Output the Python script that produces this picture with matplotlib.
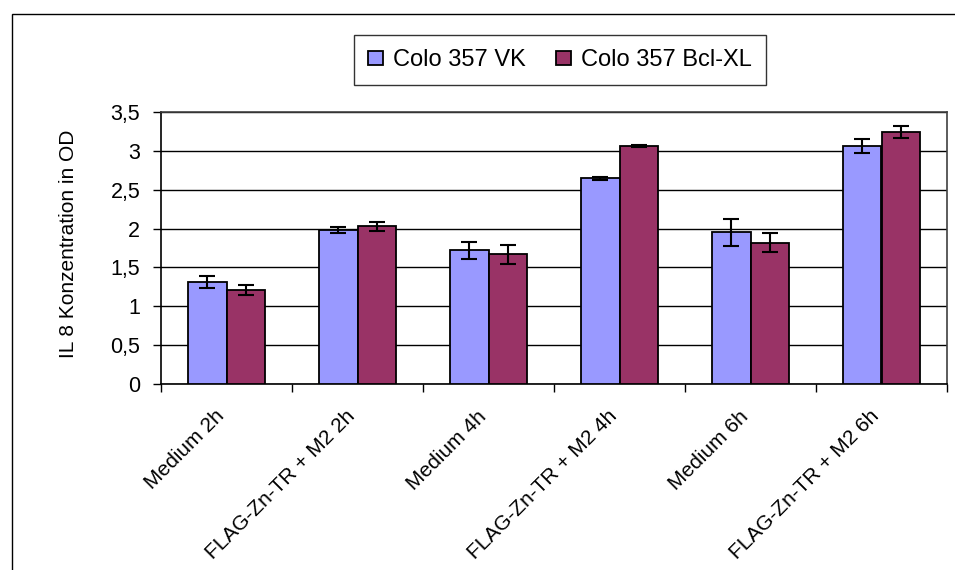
import matplotlib
matplotlib.use("Agg")
import matplotlib.pyplot as plt
import numpy as np
from matplotlib.patches import Rectangle

plt.rcParams['font.family'] = ['Liberation Sans', 'DejaVu Sans']

categories = ["Medium 2h", "FLAG-Zn-TR + M2 2h", "Medium 4h",
              "FLAG-Zn-TR + M2 4h", "Medium 6h", "FLAG-Zn-TR + M2 6h"]
vk_values = [1.31, 1.98, 1.72, 2.65, 1.95, 3.06]
vk_errors = [0.08, 0.035, 0.11, 0.02, 0.17, 0.09]
bcl_values = [1.21, 2.03, 1.67, 3.06, 1.82, 3.24]
bcl_errors = [0.065, 0.06, 0.12, 0.01, 0.12, 0.08]
series_names = ["Colo 357 VK", "Colo 357 Bcl-XL"]
yticks = [0, 0.5, 1, 1.5, 2, 2.5, 3, 3.5]
ytick_labels = ["0", "0,5", "1", "1,5", "2", "2,5", "3", "3,5"]

fig = plt.figure(figsize=(9.55, 5.7), dpi=100)
# outer chart frame
fig.patches.append(Rectangle((11.5/955, -0.05), 1.05, (570-14)/570 + 0.05,
                             transform=fig.transFigure, fill=False,
                             edgecolor='black', linewidth=1.0))

ax = fig.add_axes([161/955, (570-384)/570, (947-161)/955, (384-112)/570])
x = np.arange(len(categories))
w = 0.294
ax.bar(x - w/2, vk_values, w, color='#9999FF', edgecolor='black',
       linewidth=1.3, label=series_names[0], zorder=3)
ax.bar(x + w/2, bcl_values, w, color='#993366', edgecolor='black',
       linewidth=1.3, label=series_names[1], zorder=3)
ax.errorbar(x - w/2, vk_values, yerr=vk_errors, fmt='none', ecolor='black',
            elinewidth=1.5, capsize=5.5, capthick=1.5, zorder=4)
ax.errorbar(x + w/2, bcl_values, yerr=bcl_errors, fmt='none', ecolor='black',
            elinewidth=1.5, capsize=5.5, capthick=1.5, zorder=4)

ax.set_xlim(-0.5, len(categories) - 0.5)
ax.set_ylim(0, 3.5)
ax.set_yticks(yticks)
ax.set_yticklabels(ytick_labels, fontsize=15.5)
ax.yaxis.grid(True, color='black', linewidth=1.0, zorder=0)
ax.set_axisbelow(True)
ax.tick_params(axis='y', direction='out', length=6, width=1, pad=9)

ax.set_xticks(np.arange(len(categories) + 1) - 0.5)
ax.set_xticklabels([])
ax.tick_params(axis='x', direction='out', length=6, width=1)
for i, c in enumerate(categories):
    ax.text(i - 0.09, -0.29, c, rotation=45, ha='right', va='top',
            rotation_mode='anchor', fontsize=15,
            transform=ax.transData)

for s in ['top', 'right']:
    ax.spines[s].set_color('#404040')
    ax.spines[s].set_linewidth(1.2)
for s in ['left', 'bottom']:
    ax.spines[s].set_color('black')
    ax.spines[s].set_linewidth(1.2)

ax.set_ylabel("IL 8 Konzentration in OD", fontsize=15)
ax.yaxis.set_label_coords(-0.106, 0.515)

leg = fig.legend(loc='center', bbox_to_anchor=(560/955, (570-60)/570),
                 ncol=2, fontsize=17, frameon=True, fancybox=False,
                 edgecolor='black', handlelength=0.64, handleheight=0.55,
                 handletextpad=0.42, columnspacing=1.3, borderpad=0.6)
leg.get_frame().set_linewidth(1.0)

fig.savefig("out.png", dpi=100)
